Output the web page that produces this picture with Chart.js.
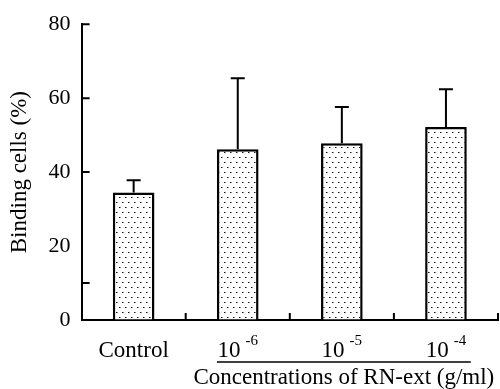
<!DOCTYPE html>
<html>
<head>
<meta charset="utf-8">
<script src="https://cdn.jsdelivr.net/npm/chart.js@4"></script>
<style>
  html, body { margin: 0; padding: 0; background: #fff; }
  #wrap { width: 500px; height: 389px; }
</style>
</head>
<body>
<div id="wrap"><canvas id="myChart"></canvas></div>
<script>
// categories, "base^exponent" for the concentration labels
const categories = ['Control', '10^-6', '10^-5', '10^-4'];
const binding = [34.5, 46.2, 47.8, 52.2];
const errorUp = [3.3, 19.2, 9.8, 10.2];
const yTicks = [0, 20, 40, 60, 80];
const yTickMarks = [10, 40, 60, 80];
const groupTitle = 'Concentrations of RN-ext (g/ml)';

const serif = 'Liberation Serif';

// dotted fill like the original print
function dots(ctx) {
    const c = document.createElement('canvas');
    c.width = 6;
    c.height = 10;
    const g = c.getContext('2d');
    g.fillStyle = '#fff';
    g.fillRect(0, 0, 6, 10);
    g.fillStyle = '#111';
    g.fillRect(2, 2, 1, 1);
    g.fillRect(5, 7, 1, 1);
    g.fillStyle = '#888';
    g.fillRect(3, 2, 1, 1);
    g.fillRect(0, 7, 1, 1);
    return ctx.createPattern(c, 'repeat');
}

const extras = {
    id: 'extras',
    afterDatasetsDraw(chart) {
        const { ctx, chartArea: a, scales: { x, y } } = chart;
        const bars = chart.getDatasetMeta(0).data;
        ctx.save();
        ctx.strokeStyle = '#000';
        ctx.fillStyle = '#000';
        ctx.lineWidth = 2;

        // upper error bars
        ctx.beginPath();
        bars.forEach((bar, i) => {
            const top = y.getPixelForValue(binding[i] + errorUp[i]);
            ctx.moveTo(bar.x, bar.y);
            ctx.lineTo(bar.x, top);
            ctx.moveTo(bar.x - 7, top);
            ctx.lineTo(bar.x + 7, top);
        });
        // inward ticks
        yTickMarks.forEach(v => {
            const py = y.getPixelForValue(v);
            ctx.moveTo(a.left, py);
            ctx.lineTo(a.left + 8, py);
        });
        categories.forEach((c, i) => {
            const px = x.getPixelForValue(i + 0.5);
            ctx.moveTo(px, a.bottom);
            ctx.lineTo(px, a.bottom - 7);
        });
        ctx.stroke();

        // category labels with superscripts
        ctx.textBaseline = 'alphabetic';
        categories.forEach((c, i) => {
            const [base, sup] = c.split('^');
            ctx.font = '23px "' + serif + '"';
            const w1 = ctx.measureText(base).width;
            ctx.font = '15px "' + serif + '"';
            const w2 = sup ? ctx.measureText(sup).width + 5 : 0;
            let left = bars[i].x - (w1 + w2) / 2;
            ctx.font = '23px "' + serif + '"';
            ctx.textAlign = 'left';
            ctx.fillText(base, left, a.bottom + 37);
            if (sup) {
                ctx.font = '15px "' + serif + '"';
                ctx.fillText(sup, left + w1 + 5, a.bottom + 25);
            }
        });

        // group line and title under the concentrations
        const l = bars[1].x - bars[1].width / 2;
        const r = bars[3].x + bars[3].width / 2 + 4;
        ctx.lineWidth = 1.5;
        ctx.beginPath();
        ctx.moveTo(l, a.bottom + 42);
        ctx.lineTo(r, a.bottom + 42);
        ctx.stroke();
        ctx.font = '23px "' + serif + '"';
        ctx.textAlign = 'center';
        ctx.fillText(groupTitle, (l + r) / 2, a.bottom + 64);
        ctx.restore();
    }
};

const ctx = document.getElementById('myChart').getContext('2d');
const myChart = new Chart(ctx, {
    type: 'bar',
    data: {
        labels: categories,
        datasets: [
            {
                data: binding,
                backgroundColor: dots(ctx),
                borderColor: '#000',
                borderWidth: 2.5,
                barPercentage: 0.4,
                categoryPercentage: 1.0,
            },
        ],
    },
    plugins: [extras],
    options: {
        responsive: true,
        maintainAspectRatio: false,
        animation: false,
        layout: {
            padding: { left: 6, right: 2, top: 24, bottom: 69 },
        },
        plugins: {
            legend: { display: false },
            tooltip: { enabled: false },
        },
        scales: {
            x: {
                border: { color: '#000', width: 2 },
                grid: { drawOnChartArea: false, drawTicks: false },
                ticks: { display: false },
            },
            y: {
                min: 0,
                max: 80,
                afterBuildTicks: s => { s.ticks = yTicks.map(v => ({ value: v })); },
                border: { color: '#000', width: 2 },
                grid: { drawOnChartArea: false, drawTicks: false },
                ticks: {
                    padding: 11,
                    color: '#000',
                    font: { family: serif, size: 22 },
                },
                title: {
                    display: true,
                    text: 'Binding cells (%)',
                    color: '#000',
                    font: { family: serif, size: 23 },
                    padding: { top: 0, bottom: 4 },
                },
            },
        },
    },
});
</script>
</body>
</html>
